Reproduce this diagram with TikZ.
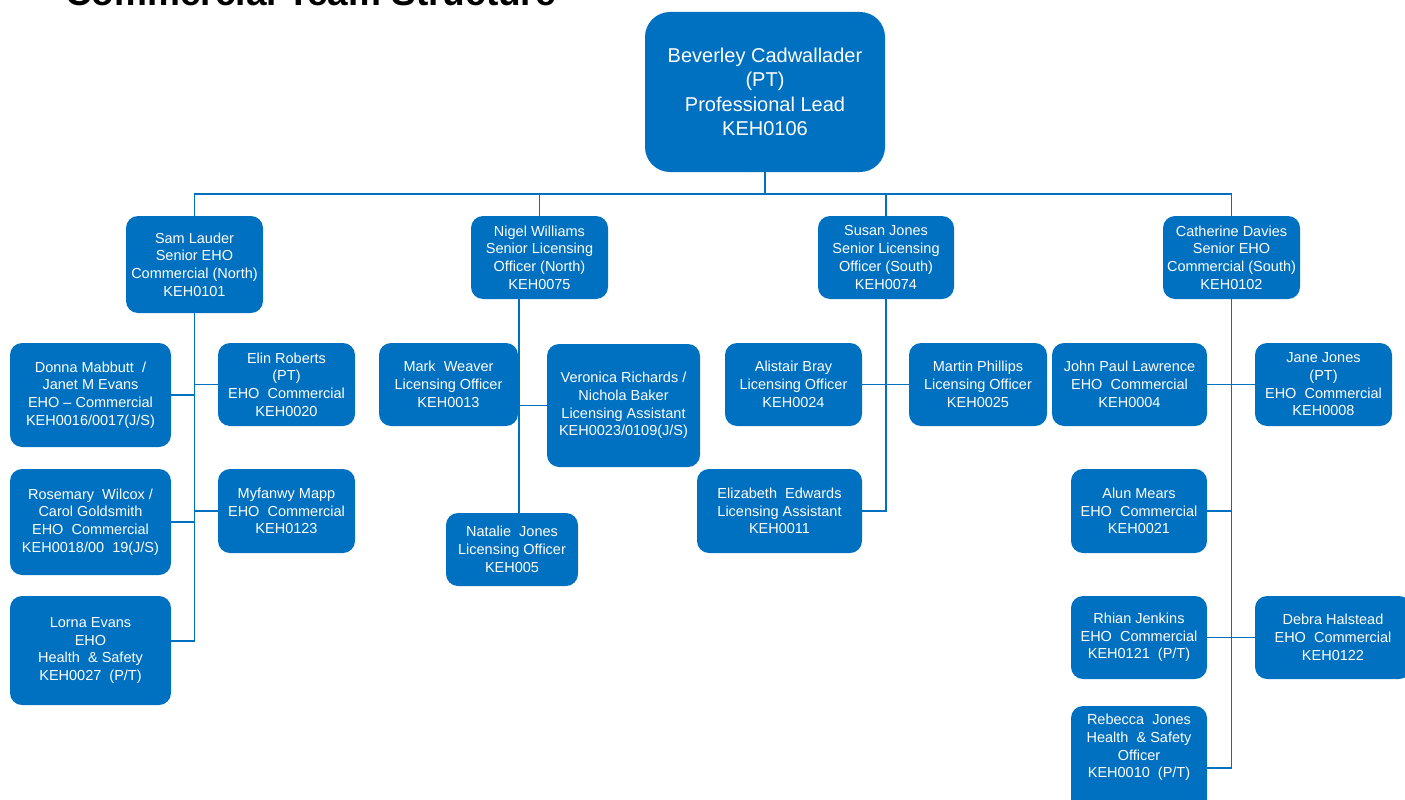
\documentclass[tikz,border=0pt]{standalone}
\usepackage{fontspec}
\setmainfont{Liberation Sans}
\definecolor{orgblue}{HTML}{0070C0}
\newcommand\orgbox[7][]{\node[box,#1, minimum width={(#5-#3)*1pt}, minimum height={(#6-#4)*1pt}] (#2) at ({(#3+#5)/2},{(#4+#6)/2}) {#7};}
\begin{document}
\begin{tikzpicture}[x=1pt,y=-1pt,
  box/.style={fill=orgblue, rounded corners=12pt, text=white, align=center, inner sep=0pt, font=\fontsize{14.5}{17.7}\selectfont},
  conn/.style={draw=orgblue, line width=1.6pt}]
\useasboundingbox (0,0) rectangle (1405,800);
% title
\node[anchor=base west, inner sep=0pt, font=\bfseries\fontsize{37}{37}\selectfont] (title) at (65,6) {Commercial Team Structure};
% top
\orgbox[rounded corners=25pt, font=\fontsize{20}{24.5}\selectfont]{bev}{645}{12}{885}{172}{Beverley Cadwallader\\(PT)\\Professional Lead\\KEH0106}
% second level
\orgbox{sam}{126}{216}{263}{313}{Sam Lauder\\Senior EHO\\Commercial (North)\\KEH0101}
\orgbox{nigel}{471}{216}{608}{299}{Nigel Williams\\Senior Licensing\\Officer (North)\\KEH0075}
\orgbox{susan}{818}{216}{954}{299}{Susan Jones\\Senior Licensing\\Officer (South)\\KEH0074}
\orgbox{cath}{1163}{216}{1300}{299}{Catherine Davies\\Senior EHO\\Commercial (South)\\KEH0102}
% Sam team
\orgbox{donna}{10}{343}{171}{447}{Donna Mabbutt \ /\\Janet M Evans\\EHO -- Commercial\\KEH0016/0017(J/S)}
\orgbox{elin}{218}{343}{355}{426}{Elin Roberts\\(PT)\\EHO\ \ Commercial\\KEH0020}
\orgbox{rosemary}{10}{469}{171}{575}{Rosemary\ \ Wilcox /\\Carol Goldsmith\\EHO\ \ Commercial\\KEH0018/00\ \ 19(J/S)}
\orgbox{myfanwy}{218}{469}{355}{553}{Myfanwy Mapp\\EHO\ \ Commercial\\KEH0123}
\orgbox{lorna}{10}{596}{171}{705}{Lorna Evans\\EHO\\Health\ \ \& Safety\\KEH0027\ \ (P/T)}
% Nigel team
\orgbox{mark}{379}{343}{518}{426}{Mark\ \ Weaver\\Licensing Officer\\KEH0013}
\orgbox{veronica}{547}{344}{700}{467}{Veronica Richards /\\Nichola Baker\\Licensing Assistant\\KEH0023/0109(J/S)}
\orgbox{natalie}{446}{513}{578}{586}{Natalie\ \ Jones\\Licensing Officer\\KEH005}
% Susan team
\orgbox{alistair}{725}{343}{862}{426}{Alistair Bray\\Licensing Officer\\KEH0024}
\orgbox{martin}{909}{343}{1047}{426}{Martin Phillips\\Licensing Officer\\KEH0025}
\orgbox{eliz}{697}{469}{862}{553}{Elizabeth\ \ Edwards\\Licensing Assistant\\KEH0011}
% Catherine team
\orgbox{jp}{1052}{343}{1207}{426}{John Paul Lawrence\\EHO\ \ Commercial\\KEH0004}
\orgbox{jane}{1255}{343}{1392}{426}{Jane Jones\\(PT)\\EHO\ \ Commercial\\KEH0008}
\orgbox{alun}{1071}{469}{1207}{553}{Alun Mears\\EHO\ \ Commercial\\KEH0021}
\orgbox{rhian}{1071}{596}{1207}{679}{Rhian Jenkins\\EHO\ \ Commercial\\KEH0121\ \ (P/T)}
\orgbox{debra}{1255}{596}{1411}{679}{Debra Halstead\\EHO\ \ Commercial\\KEH0122}
\fill[orgblue, rounded corners=12pt] (1071,706) rectangle (1207,830);
\node[box, fill=none] (rebecca) at (1139,747.5) {Rebecca\ \ Jones\\Health\ \ \& Safety\\Officer\\KEH0010\ \ (P/T)};
% connectors
\coordinate (bus) at (765,194);
\draw[conn] (bev.south) -- (bus);
\foreach \n in {sam,nigel,susan,cath} \draw[conn] (\n.north) -- (\n.north |- bus) -- (bus);
% Sam
\coordinate (lj) at (171,641);
\draw[conn] (sam.south) |- (lj);
\draw[conn] (donna.east) -- (donna.east -| sam.south);
\draw[conn] (elin.west) -- (elin.west -| sam.south);
\draw[conn] (rosemary.east) -- (rosemary.east -| sam.south);
\draw[conn] (myfanwy.west) -- (myfanwy.west -| sam.south);
% Nigel
\coordinate (nv) at (519,299);
\draw[conn] (nv) -- (nv |- natalie.north);
\draw[conn] (veronica.west) -- (veronica.west -| nv);
% Susan
\draw[conn] (susan.south) |- (eliz.east);
\draw[conn] (alistair.east) -- (martin.west);
% Catherine
\coordinate (rj) at (1207,768);
\draw[conn] (cath.south) |- (rj);
\draw[conn] (jp.east) -- (jane.west);
\draw[conn] (alun.east) -- (alun.east -| cath.south);
\draw[conn] (rhian.east) -- (debra.west);
\end{tikzpicture}
\end{document}
